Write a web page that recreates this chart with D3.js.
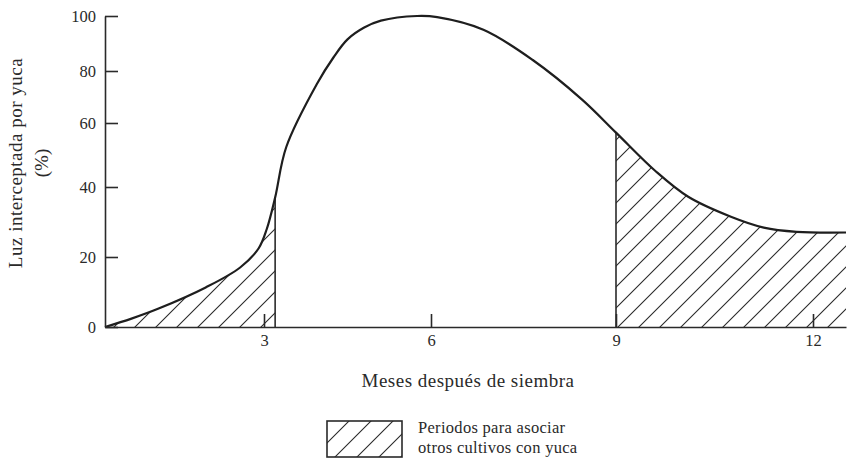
<!DOCTYPE html>
<html>
<head>
<meta charset="utf-8">
<script src="https://cdn.jsdelivr.net/npm/d3@7"></script>
<style>
  html, body { margin: 0; padding: 0; background: #fff; }
  svg { display: block; }
  text { font-family: "Liberation Serif", "DejaVu Serif", serif; fill: #2a2a2a; }
</style>
</head>
<body>
<svg id="chart" width="850" height="459"></svg>
<script>
// ---- data ----
const months = [0, 0.5, 1.0, 1.9, 2.55, 2.9, 3.05, 3.2, 3.4, 3.95, 4.25, 4.5, 4.8, 5.1, 5.75, 6.1, 6.85, 7.65, 8.45, 9.0, 9.6, 10.1, 10.75, 11.25, 11.75, 12.5];
const light  = [0, 2.4, 5.2, 11.3, 17, 22.5, 28, 37, 52.5, 75, 85, 91.5, 95.8, 98.3, 100, 99.6, 95, 84, 69, 57, 45, 37.2, 31.5, 28.4, 27.2, 27];
const xTicks = [3, 6, 9, 12];
const yTicks = [0, 20, 40, 60, 80, 100];
const periods = [[0, 3.2], [9, 12.5]];
const xTitle = "Meses después de siembra";
const yTitle = ["Luz interceptada por yuca", "(%)"];
const legendText = ["Periodos para asociar", "otros cultivos con yuca"];

const data = months.map((m, i) => ({ m, v: light[i] }));

const svg = d3.select("#chart");
const ink = "#2a2a2a";

// the printed axes are slightly uneven; piecewise-linear scales follow the print
const x = d3.scaleLinear().domain([0, 3, 6, 9, 12, 12.5]).range([105, 264, 431, 616, 813, 846]);
const y = d3.scaleLinear().domain([0, 20, 40, 60, 80, 100]).range([327, 257, 187, 123, 71, 16]);

// hatch pattern
const defs = svg.append("defs");
function hatch(id, s) {
  const p = defs.append("pattern").attr("id", id)
    .attr("patternUnits", "userSpaceOnUse").attr("width", s).attr("height", s);
  p.append("path")
    .attr("d", `M0,${s} L${s},0 M${-s / 2},${s / 2} L${s / 2},${-s / 2} M${s / 2},${s * 1.5} L${s * 1.5},${s / 2}`)
    .attr("stroke", ink).attr("stroke-width", 1.1).attr("fill", "none");
}
hatch("hatch", 21);
hatch("hatchLegend", 22);

const clip = defs.append("clipPath").attr("id", "periodClip");
periods.forEach(([a, b]) => {
  clip.append("rect").attr("x", x(a)).attr("y", 0)
    .attr("width", x(b) - x(a)).attr("height", y(0));
});

const curve = d3.curveCatmullRom.alpha(0.5);
const area = d3.area().x(d => x(d.m)).y0(y(0)).y1(d => y(d.v)).curve(curve);
const line = d3.line().x(d => x(d.m)).y(d => y(d.v)).curve(curve);

svg.append("path").datum(data)
  .attr("d", area)
  .attr("fill", "url(#hatch)")
  .attr("clip-path", "url(#periodClip)");

// boundary lines of the periods
const interior = [periods[0][1], periods[1][0]];
svg.selectAll(".bound").data(interior).join("line")
  .attr("x1", d => x(d)).attr("x2", d => x(d))
  .attr("y1", y(0))
  .attr("y2", d => y(light[months.indexOf(d)]))
  .attr("stroke", ink).attr("stroke-width", 1.6);

// curve
svg.append("path").datum(data)
  .attr("d", line)
  .attr("fill", "none").attr("stroke", "#1e1e1e").attr("stroke-width", 2.2);

// y axis
const gy = svg.append("g").attr("transform", `translate(${x(0)},0)`)
  .call(d3.axisLeft(y).tickValues(yTicks).tickSizeInner(-13).tickSizeOuter(0).tickPadding(9));
gy.select(".domain").attr("stroke", ink).attr("stroke-width", 1.6);
gy.selectAll(".tick line").attr("stroke", ink).attr("stroke-width", 1.6);
gy.selectAll(".tick text").attr("font-family", "Liberation Serif, serif")
  .attr("font-size", 16.5).attr("fill", ink);

// x axis
const gx = svg.append("g").attr("transform", `translate(0,${y(0)})`)
  .call(d3.axisBottom(x).tickValues(xTicks).tickSizeInner(-13).tickSizeOuter(0).tickPadding(19));
gx.select(".domain").attr("stroke", ink).attr("stroke-width", 1.6);
gx.selectAll(".tick line").attr("stroke", ink).attr("stroke-width", 1.6);
gx.selectAll(".tick text").attr("font-family", "Liberation Serif, serif")
  .attr("font-size", 16.5).attr("fill", ink).attr("dy", "0");

// axis titles
svg.append("text").attr("x", 468).attr("y", 387)
  .attr("text-anchor", "middle").attr("font-size", 19).attr("letter-spacing", 0.5).text(xTitle);

const yt = svg.append("g").attr("transform", "translate(0,163) rotate(-90)");
yt.append("text").attr("x", 0).attr("y", 22).attr("text-anchor", "middle")
  .attr("font-size", 19).attr("letter-spacing", 0.5).text(yTitle[0]);
yt.append("text").attr("x", 0).attr("y", 48).attr("text-anchor", "middle")
  .attr("font-size", 19).text(yTitle[1]);

// legend
const lg = svg.append("g").attr("transform", "translate(327,421)");
lg.append("rect").attr("width", 75).attr("height", 36)
  .attr("fill", "url(#hatchLegend)").attr("stroke", ink).attr("stroke-width", 1.6);
lg.selectAll("text.leg").data(legendText).join("text")
  .attr("class", "leg")
  .attr("x", 91).attr("y", (d, i) => 12 + i * 20)
  .attr("font-size", 16.5).attr("letter-spacing", 0.3).text(d => d);
</script>
</body>
</html>
